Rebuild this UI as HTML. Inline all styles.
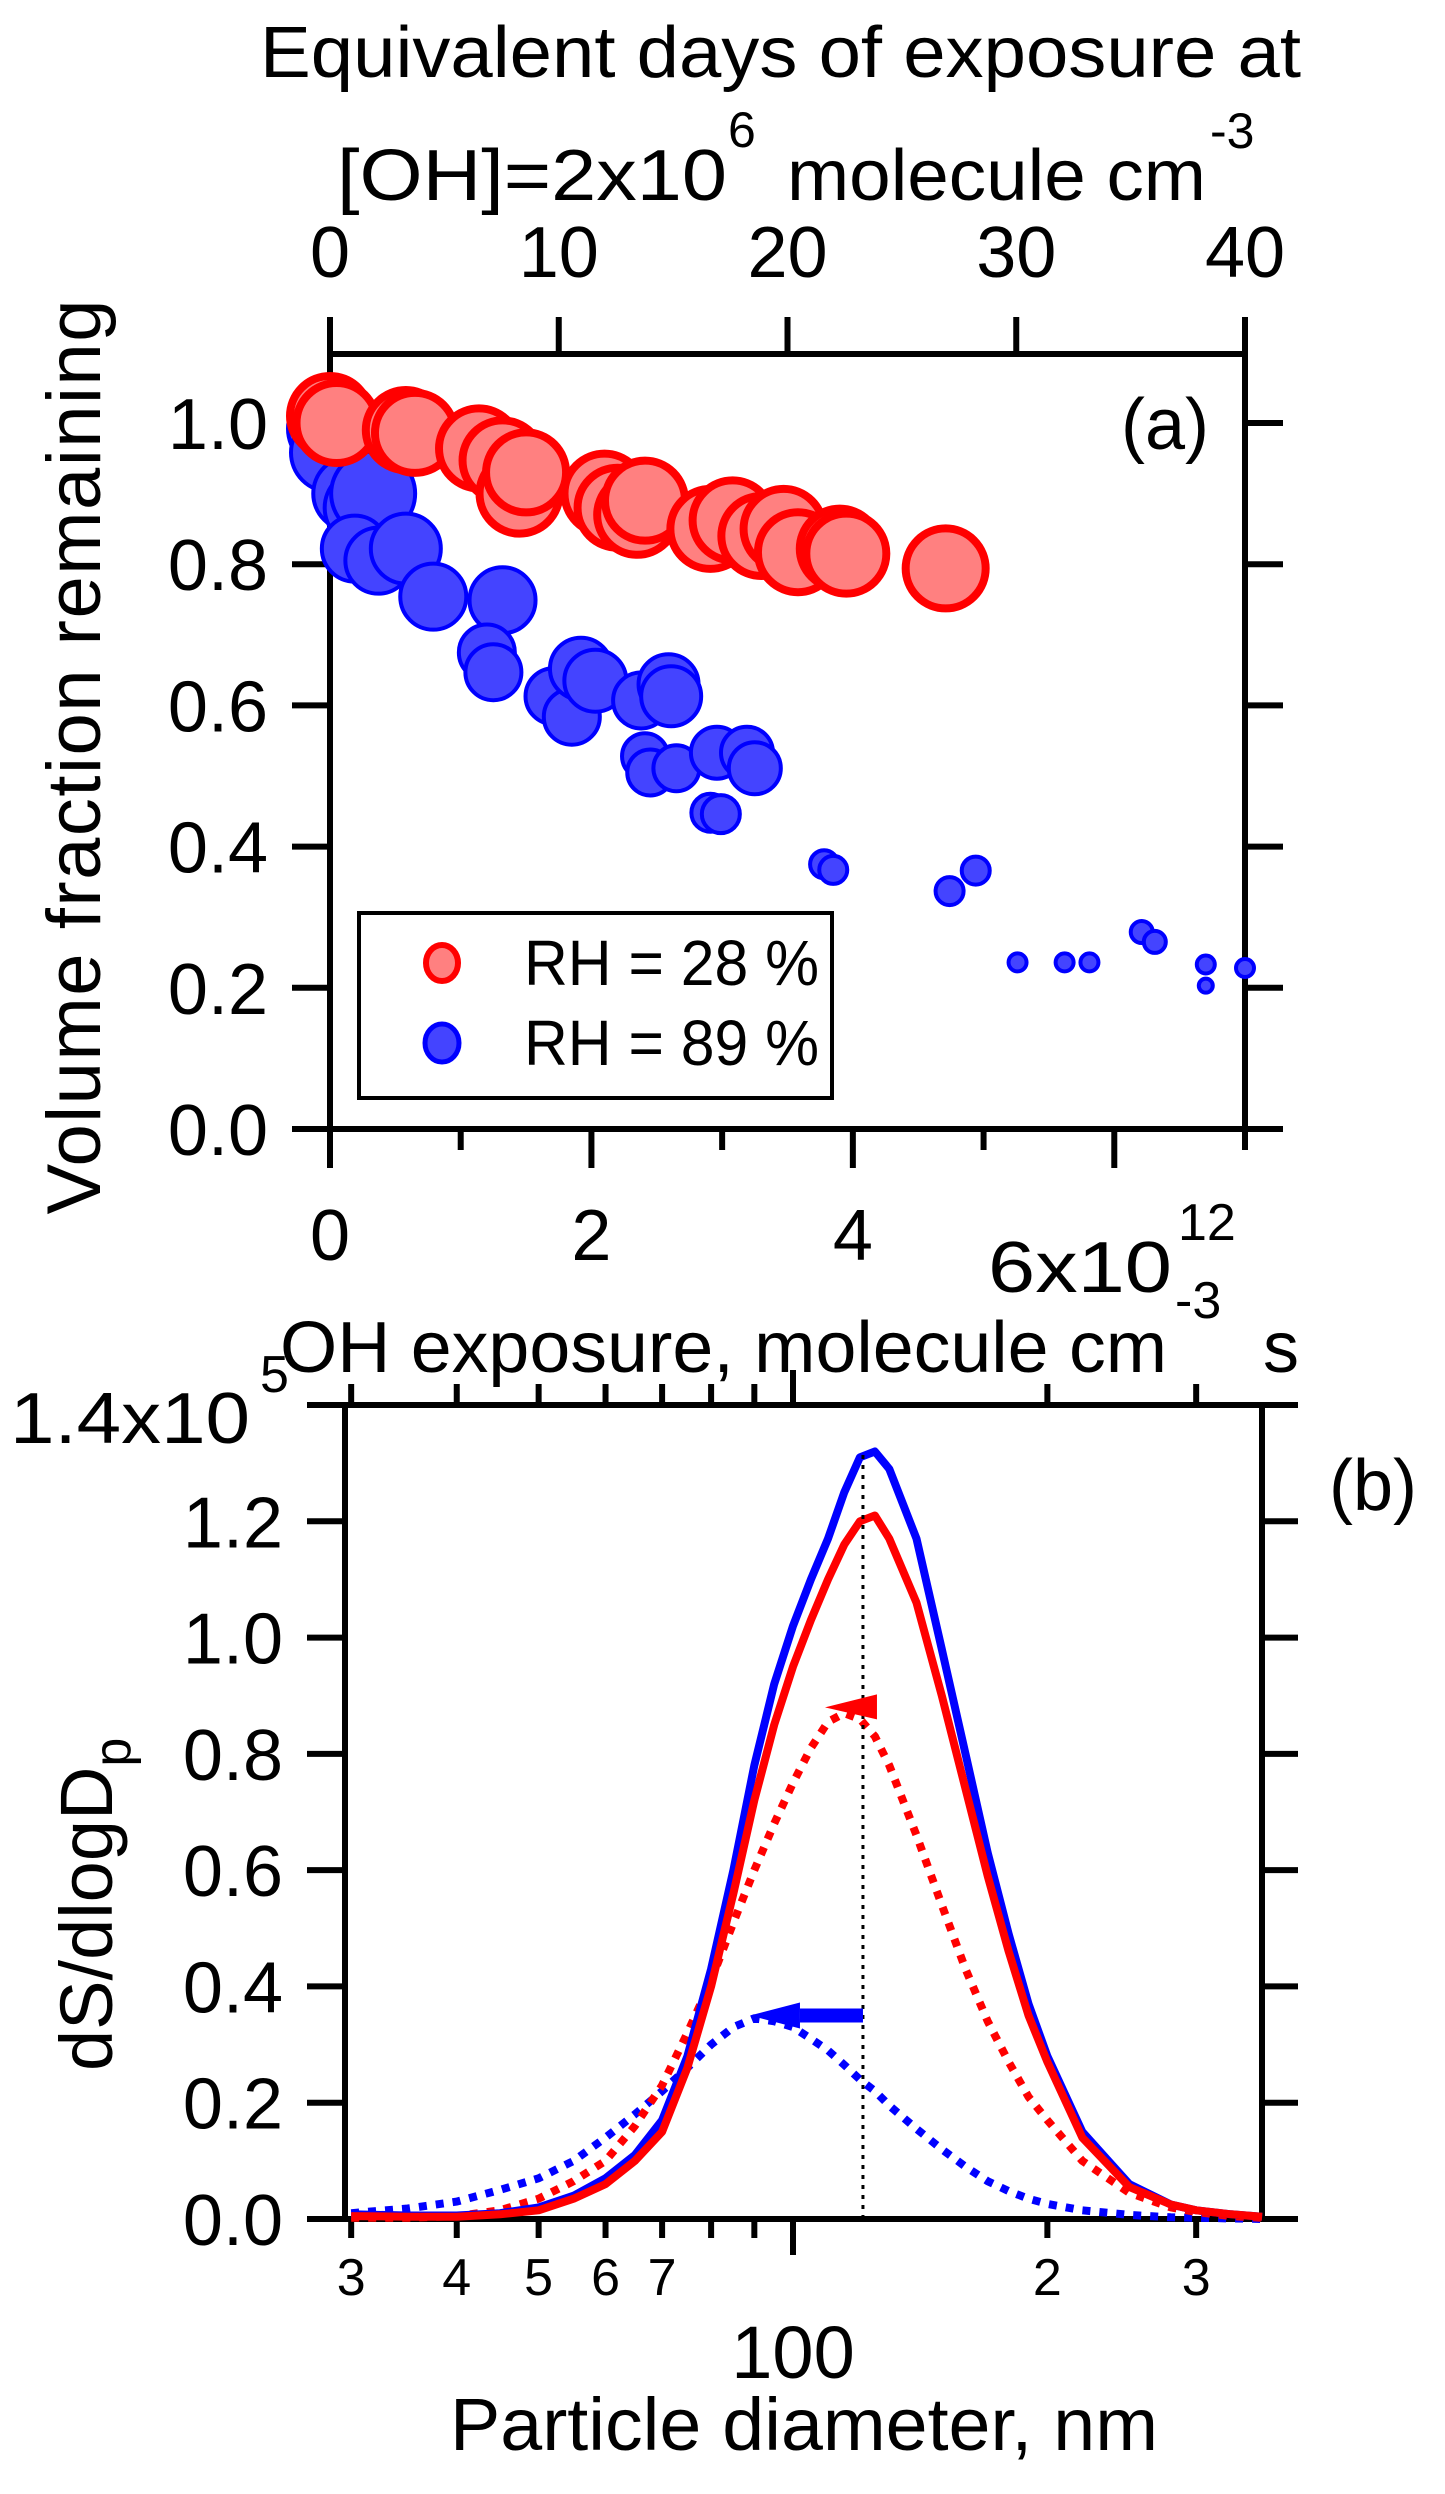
<!DOCTYPE html>
<html><head><meta charset="utf-8"><style>
html,body{margin:0;padding:0;background:#fff;}
svg{display:block;font-family:"Liberation Sans",sans-serif;}
</style></head><body>
<svg id="fig" width="1445" height="2494" viewBox="0 0 1445 2494" xmlns="http://www.w3.org/2000/svg">
<g id="pa"></g>
<g id="pb"></g>
</svg>
<script>
// ---------- Panel (a) data ----------
const redX = [0,0.05,0.58,0.65,1.14,1.32,1.45,1.5,2.1,2.2,2.35,2.41,2.91,3.08,3.3,3.47,3.58,3.9,3.95,4.71];
const redY = [1.01,1.0,0.99,0.986,0.964,0.947,0.9,0.93,0.90,0.88,0.87,0.89,0.85,0.862,0.84,0.85,0.817,0.822,0.815,0.794];
const redR = [44,44,44,44,44,44,44,44,44,44,44,44,44,44,44,44,44,44,44,44];
const blueX = [0,0,0.155,0.25,0.33,0.19,0.37,0.58,0.79,1.32,1.2,1.25,1.71,1.85,1.92,2.03,2.38,2.41,2.45,2.59,2.61,2.65,2.96,3.19,3.25,2.91,2.99,3.78,3.85,4.74,4.94,5.26,5.62,5.81,6.21,6.31,6.70,6.70,7.0];
const blueY = [0.992,0.958,0.90,0.88,0.90,0.822,0.805,0.822,0.754,0.749,0.675,0.647,0.613,0.584,0.652,0.635,0.607,0.528,0.505,0.63,0.613,0.511,0.533,0.533,0.511,0.448,0.446,0.375,0.367,0.337,0.366,0.236,0.236,0.236,0.279,0.265,0.233,0.203,0.228];
const blueR = [42,39,37,38,42,33,33,35,33,33,28,28,28,28,31,31,28,23,23,30,30,23,26,26,26,19,19,14,14,14,14,9,9,9,11,11,9,7,9];
const aBottomTicks = [0,1,2,3,4,5,6,7];
const aBottomLabels = ["0","2","4"];
const aBottomLabelVals = [0,2,4];
const aTopTicks = [0,10,20,30,40];
const aYTicks = [0,0.2,0.4,0.6,0.8,1.0];
const aYLabels = ["0.0","0.2","0.4","0.6","0.8","1.0"];

// ---------- Panel (b) data ----------
const diam = [30,35,40,45,50,55,60,65,70,75,80,85,90,95,100,105,110,115,120,125,130,140,150,160,170,180,190,200,220,250,280,300,330,359];
const blueSolid = [.008,.006,.006,.01,.02,.04,.07,.11,.17,.28,.43,.60,.78,.92,1.02,1.10,1.17,1.25,1.31,1.32,1.29,1.17,.98,.80,.63,.49,.37,.28,.15,.06,.025,.015,.008,.004];
const redSolid = [.005,.004,.004,.008,.015,.035,.06,.10,.15,.26,.40,.56,.72,.85,.95,1.03,1.10,1.16,1.20,1.21,1.17,1.06,.90,.74,.59,.46,.35,.27,.14,.055,.025,.015,.008,.004];
const redDotted = [.002,.002,.005,.015,.035,.065,.10,.16,.23,.32,.41,.51,.60,.68,.75,.81,.855,.87,.86,.83,.78,.66,.54,.43,.34,.27,.21,.17,.10,.045,.02,.012,.005,.002];
const blueDotted = [.01,.018,.03,.05,.07,.10,.14,.18,.22,.26,.30,.33,.345,.34,.33,.31,.29,.265,.24,.22,.195,.155,.12,.09,.065,.048,.035,.026,.015,.007,.003,.002,.001,0];
const bXTicks = [30,40,50,60,70,80,90,100,200,300];
const bXLabelVals = [30,40,50,60,70,200,300];
const bXLabels = ["3","4","5","6","7","2","3"];
const bYTicks = [0,0.2,0.4,0.6,0.8,1.0,1.2,1.4];
const bYLabels = ["0.0","0.2","0.4","0.6","0.8","1.0","1.2"];
const peakD = 121;
const peakVal = 1.32;

const NS = "http://www.w3.org/2000/svg";
function mk(parent, tag, attrs, text){
  const e = document.createElementNS(NS, tag);
  for (const k in attrs) e.setAttribute(k, attrs[k]);
  if (text !== undefined) e.textContent = text;
  parent.appendChild(e);
  return e;
}

// ---------- Panel (a) ----------
const pa = document.getElementById('pa');
const aL=330, aR=1245, aT=354, aB=1129;
const ax = v => aL + v*(aR-aL)/7;
const axDays = v => aL + v*(aR-aL)/40;
const ay = v => aB - v*(aB-423)/1.0;

let e;
e = mk(pa,'rect',{x:aL,y:aT,width:aR-aL,height:aB-aT,fill:'none',stroke:'#000','stroke-width':6});



aTopTicks.forEach(v=>{
  const t = mk(pa,'line',{x1:axDays(v),x2:axDays(v),y1:aT,y2:317,stroke:'#000','stroke-width':6});
  
  
  const l = mk(pa,'text',{x:axDays(v),y:277,'font-size':72,'text-anchor':'middle'},String(v));
  
  
});
aBottomTicks.forEach(v=>{
  const t = mk(pa,'line',{x1:ax(v),x2:ax(v),y1:aB,y2:(v%2===0)?1168:1150,stroke:'#000','stroke-width':6});
  
  
});
aBottomLabelVals.forEach((v,i)=>{
  const l = mk(pa,'text',{x:ax(v),y:1260,'font-size':72,'text-anchor':'middle'},aBottomLabels[i]);
  
  
});
aYTicks.forEach((v,i)=>{
  const t1 = mk(pa,'line',{x1:292,x2:aL,y1:ay(v),y2:ay(v),stroke:'#000','stroke-width':6});
  
  
  const t2 = mk(pa,'line',{x1:aR,x2:1283,y1:ay(v),y2:ay(v),stroke:'#000','stroke-width':6});
  
  
  const l = mk(pa,'text',{x:268,y:ay(v)+26,'font-size':72,'text-anchor':'end'},aYLabels[i]);
  
  
});

blueX.forEach((x,i)=>{
  const c = mk(pa,'circle',{cx:ax(x),cy:ay(blueY[i]),r:blueR[i],fill:'#4444ff',stroke:'#0000ff','stroke-width':4});
  
  
});
redX.forEach((x,i)=>{
  const c = mk(pa,'circle',{cx:ax(x),cy:ay(redY[i]),r:redR[i]-4,fill:'#ff8080',stroke:'#ff0000','stroke-width':8});
  
  
});

const lg = mk(pa,'g',{});


e = mk(lg,'rect',{x:359,y:913,width:473,height:185,fill:'#fff',stroke:'#000','stroke-width':4});


e = mk(lg,'ellipse',{cx:442,cy:963,rx:16,ry:18,fill:'#ff8080',stroke:'#ff0000','stroke-width':6});


e = mk(lg,'ellipse',{cx:442,cy:1043,rx:17,ry:19,fill:'#4444ff',stroke:'#0000ff','stroke-width':5});


e = mk(lg,'text',{x:524,y:985,'font-size':64,textLength:295,lengthAdjust:'spacingAndGlyphs'},'RH = 28 %');


e = mk(lg,'text',{x:524,y:1065,'font-size':64,textLength:295,lengthAdjust:'spacingAndGlyphs'},'RH = 89 %');



e = mk(pa,'text',{x:1121,y:449,'font-size':72},'(a)');



e = mk(pa,'text',{x:260,y:77,'font-size':72,textLength:1041,lengthAdjust:'spacingAndGlyphs'},'Equivalent days of exposure at');


e = mk(pa,'text',{x:337,y:200,'font-size':72,textLength:390,lengthAdjust:'spacingAndGlyphs'},'[OH]=2x10');


e = mk(pa,'text',{x:728,y:147,'font-size':50},'6');


e = mk(pa,'text',{x:787,y:200,'font-size':72,textLength:419,lengthAdjust:'spacingAndGlyphs'},'molecule cm');


e = mk(pa,'text',{x:1210,y:148,'font-size':50},'-3');



e = mk(pa,'text',{x:0,y:0,'font-size':76,transform:'translate(100,757) rotate(-90)','text-anchor':'middle',textLength:915,lengthAdjust:'spacing'},'Volume fraction remaining');



e = mk(pa,'text',{x:988,y:1292,'font-size':72,textLength:184,lengthAdjust:'spacingAndGlyphs'},'6x10');


e = mk(pa,'text',{x:1178,y:1240,'font-size':52},'12');


e = mk(pa,'text',{x:280,y:1372,'font-size':72,textLength:887,lengthAdjust:'spacingAndGlyphs'},'OH exposure, molecule cm');


e = mk(pa,'text',{x:1175,y:1318,'font-size':52},'-3');


e = mk(pa,'text',{x:1263,y:1372,'font-size':72},'s');



// ---------- Panel (b) ----------
const pb = document.getElementById('pb');
const bL=345, bR=1262, bT=1405, bB=2219;
const bx = d => 793 + 845*Math.log10(d/100);
const by = v => bB - v*(bB-bT)/1.4;

e = mk(pb,'rect',{x:bL,y:bT,width:bR-bL,height:bB-bT,fill:'none',stroke:'#000','stroke-width':6});


bYTicks.forEach(v=>{
  const t1 = mk(pb,'line',{x1:307,x2:bL,y1:by(v),y2:by(v),stroke:'#000','stroke-width':6});
  
  
  const t2 = mk(pb,'line',{x1:bR,x2:1298,y1:by(v),y2:by(v),stroke:'#000','stroke-width':6});
  
  
});
bYLabels.forEach((s,i)=>{
  const l = mk(pb,'text',{x:283,y:by(bYTicks[i])+26,'font-size':72,'text-anchor':'end'},s);
  
  
});
e = mk(pb,'text',{x:10,y:1443,'font-size':72,textLength:240,lengthAdjust:'spacingAndGlyphs'},'1.4x10');


e = mk(pb,'text',{x:260,y:1392,'font-size':52},'5');



bXTicks.forEach(d=>{
  const big = d===100;
  const t1 = mk(pb,'line',{x1:bx(d),x2:bx(d),y1:bB,y2:big?2255:2238,stroke:'#000','stroke-width':6});
  
  
  const t2 = mk(pb,'line',{x1:bx(d),x2:bx(d),y1:bT,y2:big?1370:1384,stroke:'#000','stroke-width':6});
  
  
});
bXLabelVals.forEach((d,i)=>{
  const l = mk(pb,'text',{x:bx(d),y:2295,'font-size':52,'text-anchor':'middle'},bXLabels[i]);
  
  
});
e = mk(pb,'text',{x:bx(100),y:2378,'font-size':74,'text-anchor':'middle'},'100');


e = mk(pb,'text',{x:450,y:2450,'font-size':74,textLength:708,lengthAdjust:'spacingAndGlyphs'},'Particle diameter, nm');


e = mk(pb,'text',{x:1329,y:1510,'font-size':72},'(b)');



const yt = mk(pb,'text',{x:0,y:0,'font-size':74,transform:'translate(112,2071) rotate(-90)'});


mk(yt,'tspan',{},'dS/dlogD');
mk(yt,'tspan',{dy:18,'font-size':52},'p');

function linePath(vals){
  return diam.map((d,i)=>(i?'L':'M')+bx(d).toFixed(1)+','+by(vals[i]).toFixed(1)).join(' ');
}
e = mk(pb,'path',{d:linePath(blueDotted),fill:'none',stroke:'#0000ff','stroke-width':8,'stroke-dasharray':'8 9'});


e = mk(pb,'path',{d:linePath(redDotted),fill:'none',stroke:'#ff0000','stroke-width':8,'stroke-dasharray':'8 9'});


e = mk(pb,'path',{d:linePath(blueSolid),fill:'none',stroke:'#0000ff','stroke-width':8,'stroke-linejoin':'round'});


e = mk(pb,'path',{d:linePath(redSolid),fill:'none',stroke:'#ff0000','stroke-width':8,'stroke-linejoin':'round'});



e = mk(pb,'line',{x1:bx(peakD),x2:bx(peakD),y1:by(0),y2:by(peakVal),stroke:'#000','stroke-width':3,'stroke-dasharray':'4 6'});



const vx = bx(peakD);
e = mk(pb,'polygon',{points:`${vx+14},${by(0.88)-13} ${vx+14},${by(0.88)+12} ${vx-38},${by(0.88)}`,fill:'#ff0000'});


const ay0 = by(0.35);
e = mk(pb,'rect',{x:vx-63,y:ay0-7,width:63,height:14,fill:'#0000ff'});


e = mk(pb,'polygon',{points:`${vx-63},${ay0-13} ${vx-63},${ay0+13} ${vx-113},${ay0}`,fill:'#0000ff'});


</script>
</body></html>
